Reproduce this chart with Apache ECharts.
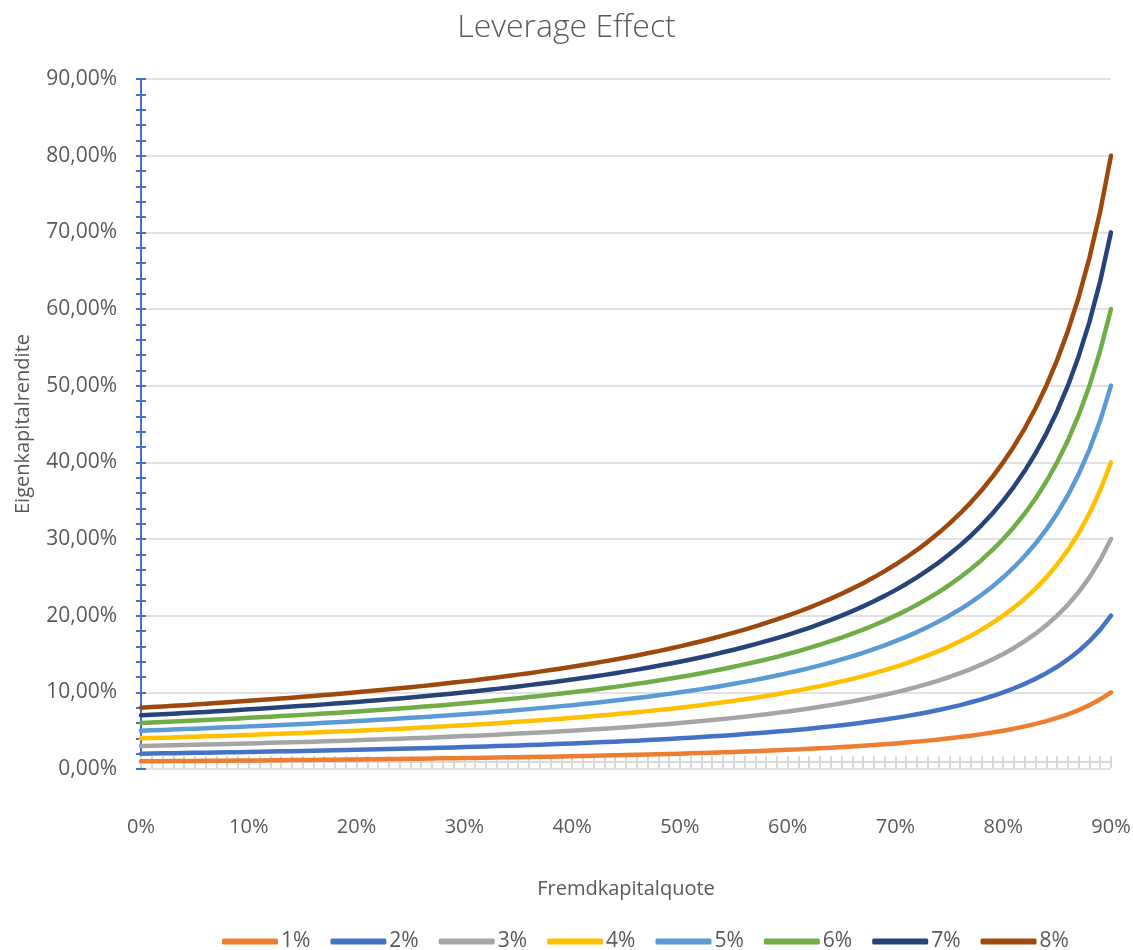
<!DOCTYPE html>
<html>
<head>
<meta charset="utf-8">
<title>Leverage Effect</title>
<script src="https://cdn.jsdelivr.net/npm/echarts@6/dist/echarts.min.js"></script>
<style>
  html, body { margin: 0; padding: 0; background: #ffffff; }
  #chart { width: 1133px; height: 950px; }
</style>
</head>
<body>
<div id="chart"></div>
<script>
// Fremdkapitalquote (debt ratio), 0% .. 90% in 1% steps
const categories = [
  '0%','1%','2%','3%','4%','5%','6%','7%','8%','9%',
  '10%','11%','12%','13%','14%','15%','16%','17%','18%','19%',
  '20%','21%','22%','23%','24%','25%','26%','27%','28%','29%',
  '30%','31%','32%','33%','34%','35%','36%','37%','38%','39%',
  '40%','41%','42%','43%','44%','45%','46%','47%','48%','49%',
  '50%','51%','52%','53%','54%','55%','56%','57%','58%','59%',
  '60%','61%','62%','63%','64%','65%','66%','67%','68%','69%',
  '70%','71%','72%','73%','74%','75%','76%','77%','78%','79%',
  '80%','81%','82%','83%','84%','85%','86%','87%','88%','89%',
  '90%'
];

// Eigenkapitalrendite in percent, one array per Gesamtkapitalrendite
const r1 = [
  1.00,1.01,1.02,1.03,1.04,1.05,1.06,1.08,1.09,1.10,
  1.11,1.12,1.14,1.15,1.16,1.18,1.19,1.20,1.22,1.23,
  1.25,1.27,1.28,1.30,1.32,1.33,1.35,1.37,1.39,1.41,
  1.43,1.45,1.47,1.49,1.52,1.54,1.56,1.59,1.61,1.64,
  1.67,1.69,1.72,1.75,1.79,1.82,1.85,1.89,1.92,1.96,
  2.00,2.04,2.08,2.13,2.17,2.22,2.27,2.33,2.38,2.44,
  2.50,2.56,2.63,2.70,2.78,2.86,2.94,3.03,3.13,3.23,
  3.33,3.45,3.57,3.70,3.85,4.00,4.17,4.35,4.55,4.76,
  5.00,5.26,5.56,5.88,6.25,6.67,7.14,7.69,8.33,9.09,
  10.00
];
const r2 = [
  2.00,2.02,2.04,2.06,2.08,2.11,2.13,2.15,2.17,2.20,
  2.22,2.25,2.27,2.30,2.33,2.35,2.38,2.41,2.44,2.47,
  2.50,2.53,2.56,2.60,2.63,2.67,2.70,2.74,2.78,2.82,
  2.86,2.90,2.94,2.99,3.03,3.08,3.13,3.17,3.23,3.28,
  3.33,3.39,3.45,3.51,3.57,3.64,3.70,3.77,3.85,3.92,
  4.00,4.08,4.17,4.26,4.35,4.44,4.55,4.65,4.76,4.88,
  5.00,5.13,5.26,5.41,5.56,5.71,5.88,6.06,6.25,6.45,
  6.67,6.90,7.14,7.41,7.69,8.00,8.33,8.70,9.09,9.52,
  10.00,10.53,11.11,11.76,12.50,13.33,14.29,15.38,16.67,18.18,
  20.00
];
const r3 = [
  3.00,3.03,3.06,3.09,3.13,3.16,3.19,3.23,3.26,3.30,
  3.33,3.37,3.41,3.45,3.49,3.53,3.57,3.61,3.66,3.70,
  3.75,3.80,3.85,3.90,3.95,4.00,4.05,4.11,4.17,4.23,
  4.29,4.35,4.41,4.48,4.55,4.62,4.69,4.76,4.84,4.92,
  5.00,5.08,5.17,5.26,5.36,5.45,5.56,5.66,5.77,5.88,
  6.00,6.12,6.25,6.38,6.52,6.67,6.82,6.98,7.14,7.32,
  7.50,7.69,7.89,8.11,8.33,8.57,8.82,9.09,9.38,9.68,
  10.00,10.34,10.71,11.11,11.54,12.00,12.50,13.04,13.64,14.29,
  15.00,15.79,16.67,17.65,18.75,20.00,21.43,23.08,25.00,27.27,
  30.00
];
const r4 = [
  4.00,4.04,4.08,4.12,4.17,4.21,4.26,4.30,4.35,4.40,
  4.44,4.49,4.55,4.60,4.65,4.71,4.76,4.82,4.88,4.94,
  5.00,5.06,5.13,5.19,5.26,5.33,5.41,5.48,5.56,5.63,
  5.71,5.80,5.88,5.97,6.06,6.15,6.25,6.35,6.45,6.56,
  6.67,6.78,6.90,7.02,7.14,7.27,7.41,7.55,7.69,7.84,
  8.00,8.16,8.33,8.51,8.70,8.89,9.09,9.30,9.52,9.76,
  10.00,10.26,10.53,10.81,11.11,11.43,11.76,12.12,12.50,12.90,
  13.33,13.79,14.29,14.81,15.38,16.00,16.67,17.39,18.18,19.05,
  20.00,21.05,22.22,23.53,25.00,26.67,28.57,30.77,33.33,36.36,
  40.00
];
const r5 = [
  5.00,5.05,5.10,5.15,5.21,5.26,5.32,5.38,5.43,5.49,
  5.56,5.62,5.68,5.75,5.81,5.88,5.95,6.02,6.10,6.17,
  6.25,6.33,6.41,6.49,6.58,6.67,6.76,6.85,6.94,7.04,
  7.14,7.25,7.35,7.46,7.58,7.69,7.81,7.94,8.06,8.20,
  8.33,8.47,8.62,8.77,8.93,9.09,9.26,9.43,9.62,9.80,
  10.00,10.20,10.42,10.64,10.87,11.11,11.36,11.63,11.90,12.20,
  12.50,12.82,13.16,13.51,13.89,14.29,14.71,15.15,15.63,16.13,
  16.67,17.24,17.86,18.52,19.23,20.00,20.83,21.74,22.73,23.81,
  25.00,26.32,27.78,29.41,31.25,33.33,35.71,38.46,41.67,45.45,
  50.00
];
const r6 = [
  6.00,6.06,6.12,6.19,6.25,6.32,6.38,6.45,6.52,6.59,
  6.67,6.74,6.82,6.90,6.98,7.06,7.14,7.23,7.32,7.41,
  7.50,7.59,7.69,7.79,7.89,8.00,8.11,8.22,8.33,8.45,
  8.57,8.70,8.82,8.96,9.09,9.23,9.38,9.52,9.68,9.84,
  10.00,10.17,10.34,10.53,10.71,10.91,11.11,11.32,11.54,11.76,
  12.00,12.24,12.50,12.77,13.04,13.33,13.64,13.95,14.29,14.63,
  15.00,15.38,15.79,16.22,16.67,17.14,17.65,18.18,18.75,19.35,
  20.00,20.69,21.43,22.22,23.08,24.00,25.00,26.09,27.27,28.57,
  30.00,31.58,33.33,35.29,37.50,40.00,42.86,46.15,50.00,54.55,
  60.00
];
const r7 = [
  7.00,7.07,7.14,7.22,7.29,7.37,7.45,7.53,7.61,7.69,
  7.78,7.87,7.95,8.05,8.14,8.24,8.33,8.43,8.54,8.64,
  8.75,8.86,8.97,9.09,9.21,9.33,9.46,9.59,9.72,9.86,
  10.00,10.14,10.29,10.45,10.61,10.77,10.94,11.11,11.29,11.48,
  11.67,11.86,12.07,12.28,12.50,12.73,12.96,13.21,13.46,13.73,
  14.00,14.29,14.58,14.89,15.22,15.56,15.91,16.28,16.67,17.07,
  17.50,17.95,18.42,18.92,19.44,20.00,20.59,21.21,21.88,22.58,
  23.33,24.14,25.00,25.93,26.92,28.00,29.17,30.43,31.82,33.33,
  35.00,36.84,38.89,41.18,43.75,46.67,50.00,53.85,58.33,63.64,
  70.00
];
const r8 = [
  8.00,8.08,8.16,8.25,8.33,8.42,8.51,8.60,8.70,8.79,
  8.89,8.99,9.09,9.20,9.30,9.41,9.52,9.64,9.76,9.88,
  10.00,10.13,10.26,10.39,10.53,10.67,10.81,10.96,11.11,11.27,
  11.43,11.59,11.76,11.94,12.12,12.31,12.50,12.70,12.90,13.11,
  13.33,13.56,13.79,14.04,14.29,14.55,14.81,15.09,15.38,15.69,
  16.00,16.33,16.67,17.02,17.39,17.78,18.18,18.60,19.05,19.51,
  20.00,20.51,21.05,21.62,22.22,22.86,23.53,24.24,25.00,25.81,
  26.67,27.59,28.57,29.63,30.77,32.00,33.33,34.78,36.36,38.10,
  40.00,42.11,44.44,47.06,50.00,53.33,57.14,61.54,66.67,72.73,
  80.00
];

const seriesNames = ['1%', '2%', '3%', '4%', '5%', '6%', '7%', '8%'];
const seriesData = [r1, r2, r3, r4, r5, r6, r7, r8];
const seriesColors = ['#ED7D31', '#4472C4', '#A5A5A5', '#FFC000', '#5B9BD5', '#70AD47', '#264478', '#9E480E'];

const FONT = '"Open Sans", "Noto Sans", sans-serif';
const TEXT = '#595959';
const GRID = '#D9D9D9';
const AXIS_BLUE = '#4472C4';

const chart = echarts.init(document.getElementById('chart'), null, { renderer: 'canvas' });

const fmtPct = v => v.toFixed(2).replace('.', ',') + '%';

chart.setOption({
  backgroundColor: '#ffffff',
  animation: false,
  textStyle: { fontFamily: FONT },
  title: {
    text: 'Leverage Effect',
    left: 'center',
    top: 7,
    textStyle: { fontFamily: FONT, fontSize: 32, fontWeight: 300, color: TEXT }
  },
  legend: {
    data: seriesNames,
    left: 217,
    top: 926,
    itemWidth: 56,
    itemHeight: 6,
    itemGap: 20,
    icon: 'roundRect',
    textStyle: { fontFamily: FONT, fontSize: 21, color: TEXT, padding: [0, 0, 0, -2] }
  },
  grid: { left: 141, right: 22, top: 79, bottom: 181, containLabel: false, outerBoundsMode: 'none' },
  xAxis: [
    {
      type: 'category',
      data: categories,
      boundaryGap: false,
      position: 'bottom',
      offset: -7,
      name: 'Fremdkapitalquote',
      nameLocation: 'middle',
      nameGap: 117,
      nameTextStyle: { fontFamily: FONT, fontSize: 20, color: TEXT },
      axisLine: { show: true, lineStyle: { color: GRID, width: 2 } },
      axisTick: { show: true, inside: true, length: 6, interval: 0, lineStyle: { color: GRID, width: 2 } },
      axisLabel: { interval: 9, margin: 55, fontFamily: FONT, fontSize: 20, color: TEXT },
      splitLine: { show: false }
    },
    {
      type: 'category',
      data: categories,
      boundaryGap: false,
      position: 'bottom',
      offset: -7,
      axisLine: { show: false },
      axisTick: { show: true, inside: false, length: 6, interval: 0, lineStyle: { color: GRID, width: 2 } },
      axisLabel: { show: false },
      splitLine: { show: false }
    }
  ],
  yAxis: [
    {
      type: 'value',
      min: 0,
      max: 90,
      interval: 10,
      position: 'left',
      name: 'Eigenkapitalrendite',
      nameLocation: 'middle',
      nameGap: 108,
      nameTextStyle: { fontFamily: FONT, fontSize: 20, color: TEXT },
      axisLine: { show: true, lineStyle: { color: AXIS_BLUE, width: 2 } },
      axisTick: { show: true, inside: false, length: 5, lineStyle: { color: AXIS_BLUE, width: 2 } },
      minorTick: { show: true, splitNumber: 5, length: 5, lineStyle: { color: AXIS_BLUE, width: 2 } },
      axisLabel: { margin: 24, fontFamily: FONT, fontSize: 21, color: TEXT, formatter: fmtPct },
      splitLine: { show: true, lineStyle: { color: GRID, width: 1.5 } }
    },
    {
      type: 'value',
      min: 0,
      max: 90,
      interval: 10,
      position: 'left',
      offset: 0,
      axisLine: { show: false },
      axisTick: { show: true, inside: true, length: 5, lineStyle: { color: AXIS_BLUE, width: 2 } },
      minorTick: { show: true, splitNumber: 5, length: 5, lineStyle: { color: AXIS_BLUE, width: 2 } },
      axisLabel: { show: false },
      splitLine: { show: false }
    }
  ],
  series: seriesNames.map((name, i) => ({
    name: name,
    type: 'line',
    xAxisIndex: 0,
    yAxisIndex: 0,
    data: seriesData[i],
    showSymbol: false,
    symbol: 'none',
    smooth: false,
    color: seriesColors[i],
    lineStyle: { color: seriesColors[i], width: 4.5, cap: 'round', join: 'round' },
    z: 2 + i
  }))
});
</script>
</body>
</html>
